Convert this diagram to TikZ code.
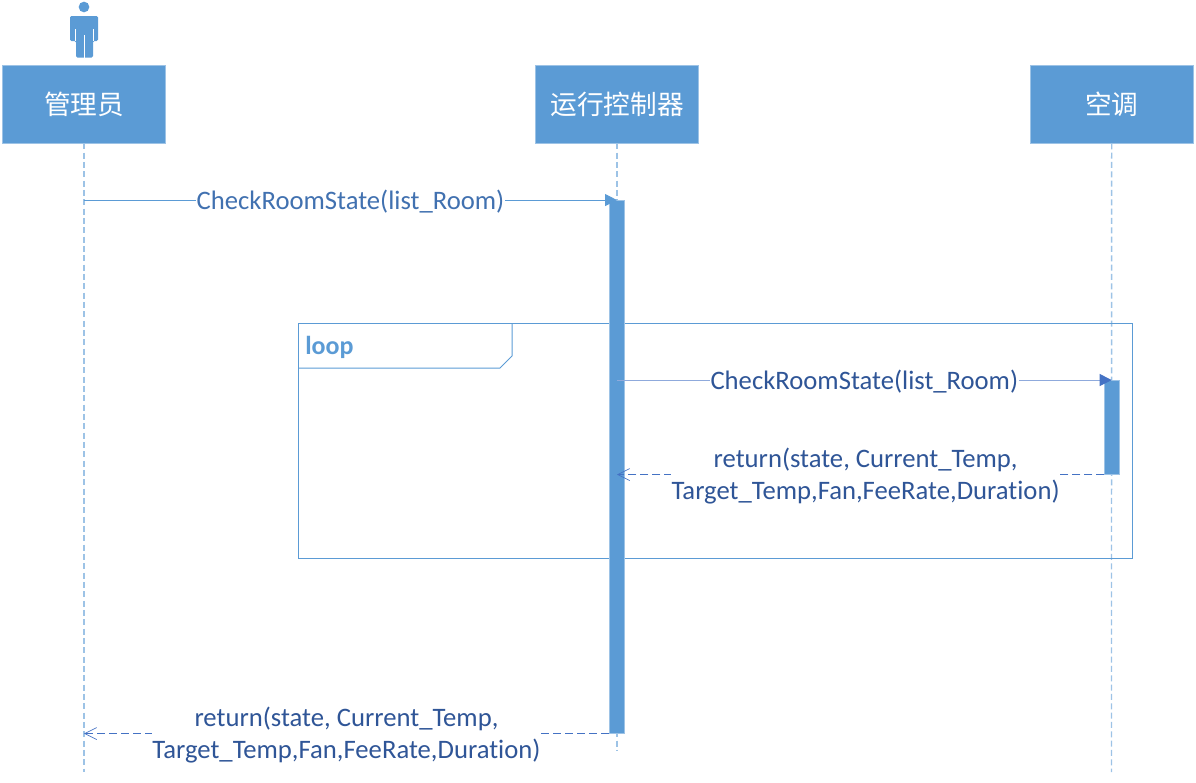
\documentclass[tikz,border=0pt]{standalone}
\usepackage{fontspec}
\setmainfont[Ligatures=CommonOff]{Carlito}
\newfontfamily\cjk{Noto Sans CJK SC}
\usetikzlibrary{arrows.meta}
\definecolor{boxblue}{HTML}{5B9BD5}
\definecolor{edgeblue}{HTML}{9DC3E6}
\definecolor{msgblue}{HTML}{2F5597}
\definecolor{tipblue}{HTML}{4472C4}
\tikzstyle{actorbox} = [rectangle, minimum width=122.25pt, minimum height=58.5pt, inner sep=0pt, text centered, draw=edgeblue, line width=0.4pt, fill=boxblue, text=white, font=\cjk\fontsize{20}{24}\selectfont]
\tikzstyle{activation} = [rectangle, minimum width=11pt, inner sep=0pt, draw=edgeblue, line width=0.4pt, fill=boxblue]
\tikzstyle{lifeline} = [edgeblue, line width=1pt, dash pattern=on 4.5pt off 2.5pt]
\tikzstyle{call} = [boxblue, line width=0.75pt, -{Triangle[length=9pt,width=9pt]}]
\tikzstyle{call2} = [tipblue!60, line width=0.75pt, -{Triangle[length=9pt,width=9pt,color=tipblue]}]
\tikzstyle{reply} = [tipblue, line width=0.6pt, dash pattern=on 6pt off 3pt, -{Straight Barb[length=9pt,width=9pt,line width=0.5pt]}]
\tikzstyle{msglabel} = [fill=white, inner xsep=0.5pt, inner ysep=0pt, yshift=-1pt, align=center, text=msgblue, font=\fontsize{20}{23.5}\selectfont]
\tikzstyle{frame} = [rectangle, minimum width=625.5pt, minimum height=176.25pt, inner sep=0pt, draw=boxblue, line width=0.75pt]
\begin{document}
\begin{tikzpicture}[x=0.75pt,y=-0.75pt]
\useasboundingbox (0,0) rectangle (1196,782);

\node (admin) [actorbox] at (84,104) {管理员};
\node (ctrl) [actorbox, right of=admin, node distance=399.75pt] {运行控制器};
\node (ac) [actorbox, right of=ctrl, node distance=371pt] {空调};

\coordinate (adminend) at (84,772);
\coordinate (ctrlend) at (617,750);
\coordinate (acend) at (1111.5,772);
\draw [lifeline] (admin) -- (adminend);
\draw [lifeline] (ctrl) -- (ctrlend);
\draw [lifeline] (ac) -- (acend);

% actor above the first box
\fill [boxblue] (84,7) circle (4pt);
\fill [boxblue, rounded corners=1pt] (70,16) -- (98,16) -- (98,41) -- (93,41) -- (93,57.5) -- (76,57.5) -- (76,41) -- (70,41) -- cycle;
\draw [white, line width=0.6pt] (75,29) -- (75,41) (93,29) -- (93,41) (84,35) -- (84,57.5);

\node (loopframe) [frame] at (715.75,440.5) {};
\draw [boxblue, line width=0.75pt] (299,368) -- (500,368) -- (512,356) -- (512,323);
\node (looplabel) [anchor=west, inner sep=0pt, text=boxblue, font=\bfseries\fontsize{19.5}{23}\selectfont] at (305,347.5) {loop};

\node (ctrlbar) [activation, minimum height=399.75pt] at (616.5,466.8) {};
\node (acbar) [activation, minimum height=70.5pt] at (1112,427.3) {};

\draw [call] (admin |- ctrlbar.north) -- node (m1) [msglabel, text=msgblue!60!boxblue] {CheckRoomState(list\_Room)} (ctrl |- ctrlbar.north);
\draw [call2] (ctrl |- acbar.north) -- node (m2) [msglabel] {CheckRoomState(list\_Room)} (ac |- acbar.north);
\draw [reply] (acbar.south west) -- node (m3) [msglabel, pos=0.49] {return(state, Current\_Temp,\\Target\_Temp,Fan,FeeRate,Duration)} (ctrl |- acbar.south);
\draw [reply] (ctrlbar.south west) -- node (m4) [msglabel] {return(state, Current\_Temp,\\Target\_Temp,Fan,FeeRate,Duration)} (admin |- ctrlbar.south);
\end{tikzpicture}
\end{document}
